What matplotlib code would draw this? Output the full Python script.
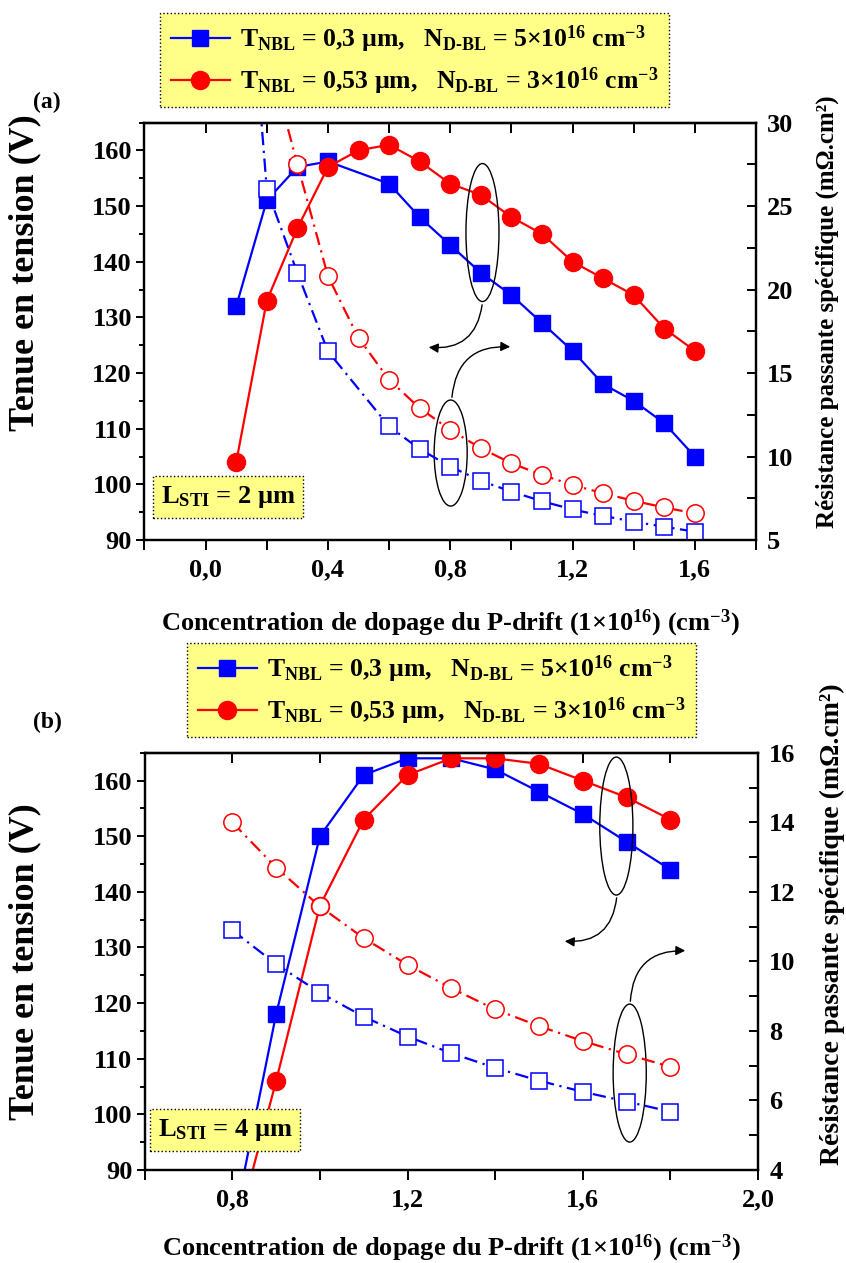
import matplotlib
matplotlib.use('Agg')
import matplotlib.pyplot as plt
from matplotlib.patches import Ellipse, FancyArrowPatch
from matplotlib.ticker import MultipleLocator, FuncFormatter

plt.rcParams['font.family'] = ['Liberation Serif', 'DejaVu Serif']
plt.rcParams['font.weight'] = 'bold'
plt.rcParams['axes.labelweight'] = 'bold'
plt.rcParams['mathtext.fontset'] = 'custom'
plt.rcParams['mathtext.rm'] = 'Liberation Serif:bold'
plt.rcParams['mathtext.bf'] = 'Liberation Serif:bold'
plt.rcParams['mathtext.it'] = 'Liberation Serif:italic:bold'
plt.rcParams['mathtext.default'] = 'rm'

# ---- panel (a), L_STI = 2 um ----
x_bv_blue_a = [0.1, 0.2, 0.3, 0.4, 0.6, 0.7, 0.8, 0.9, 1.0, 1.1, 1.2, 1.3, 1.4, 1.5, 1.6]
bv_blue_a = [132, 151, 157, 158, 154, 148, 143, 138, 134, 129, 124, 118, 115, 111, 105]
x_bv_red_a = [0.1, 0.2, 0.3, 0.4, 0.5, 0.6, 0.7, 0.8, 0.9, 1.0, 1.1, 1.2, 1.3, 1.4, 1.5, 1.6]
bv_red_a = [104, 133, 146, 157, 160, 161, 158, 154, 152, 148, 145, 140, 137, 134, 128, 124]
x_ron_blue_a = [0.1, 0.2, 0.3, 0.4, 0.6, 0.7, 0.8, 0.9, 1.0, 1.1, 1.2, 1.3, 1.4, 1.5, 1.6]
ron_blue_a = [49, 26.0, 21.0, 16.3, 11.8, 10.45, 9.4, 8.55, 7.9, 7.33, 6.83, 6.45, 6.1, 5.8, 5.5]
x_ron_red_a = [0.1, 0.2, 0.3, 0.4, 0.5, 0.6, 0.7, 0.8, 0.9, 1.0, 1.1, 1.2, 1.3, 1.4, 1.5, 1.6]
ron_red_a = [48, 34.4, 27.5, 20.8, 17.1, 14.6, 12.9, 11.6, 10.5, 9.6, 8.9, 8.3, 7.8, 7.35, 6.95, 6.6]

# ---- panel (b), L_STI = 4 um ----
x_b = [0.8, 0.9, 1.0, 1.1, 1.2, 1.3, 1.4, 1.5, 1.6, 1.7, 1.8]
bv_blue_b = [79, 118, 150, 161, 164, 164, 162, 158, 154, 149, 144]
bv_red_b = [76, 106, 137.5, 153, 161, 164, 164, 163, 160, 157, 153]
ron_blue_b = [10.9, 9.92, 9.10, 8.41, 7.84, 7.36, 6.94, 6.57, 6.25, 5.97, 5.68]
ron_red_b = [14.0, 12.7, 11.58, 10.67, 9.9, 9.23, 8.62, 8.14, 7.71, 7.33, 6.97]

lab_blue = r'T$_{\rm NBL}$ = 0,3 µm,   N$_{\text{D-BL}}$ = 5×10$^{16}$ cm$^{-3}$'
lab_red = r'T$_{\rm NBL}$ = 0,53 µm,   N$_{\text{D-BL}}$ = 3×10$^{16}$ cm$^{-3}$'
xlab = r'Concentration de dopage du P-drift (1×10$^{16}$) (cm$^{-3}$)'
ylab = 'Tenue en tension (V)'
y2lab = 'Résistance passante spécifique (mΩ.cm²)'

BLUE = '#0000ff'
RED = '#ff0000'
YELLOW = '#ffff88'
dashdot = (0, (6, 2.5, 1, 2.5))
comma = FuncFormatter(lambda v, p: f'{v:.1f}'.replace('.', ','))

fig = plt.figure(figsize=(8.46, 12.63), dpi=100)
ax_a = fig.add_axes([0.1708, 0.5724, 0.7228, 0.3306])
ax_b = fig.add_axes([0.1710, 0.0736, 0.7250, 0.3304])


def setup(ax, xlim, y2lim, y2maj, y2min, y2size):
    ax.set_xlim(*xlim)
    ax.set_ylim(90, 165)
    ax.xaxis.set_major_locator(MultipleLocator(0.4))
    ax.xaxis.set_minor_locator(MultipleLocator(0.2))
    ax.xaxis.set_major_formatter(comma)
    ax.yaxis.set_major_locator(MultipleLocator(10))
    ax.yaxis.set_minor_locator(MultipleLocator(5))
    ax.tick_params(axis='x', which='both', direction='out', length=7, width=1.4,
                   labelsize=19, pad=6)
    ax.tick_params(axis='y', which='major', direction='out', length=6, width=1.4,
                   labelsize=19, pad=3)
    ax.tick_params(axis='y', which='minor', direction='out', length=3.5, width=1.4)
    for s in ax.spines.values():
        s.set_linewidth(1.6)
    top = ax.secondary_xaxis('top')
    top.xaxis.set_major_locator(MultipleLocator(0.2))
    top.tick_params(direction='in', length=7, width=1.4, labeltop=False)
    top.spines['top'].set_linewidth(1.6)
    ax2 = ax.twinx()
    ax2.set_ylim(*y2lim)
    ax2.yaxis.set_major_locator(MultipleLocator(y2maj))
    ax2.yaxis.set_minor_locator(MultipleLocator(y2min))
    ax2.tick_params(axis='y', which='major', direction='in', length=6.5, width=1.4,
                    labelsize=19, pad=8)
    ax2.tick_params(axis='y', which='minor', direction='in', length=6.5, width=1.4)
    for s in ax2.spines.values():
        s.set_linewidth(1.6)
    ax.set_xlabel(xlab, fontsize=19)
    ax.set_ylabel(ylab, fontsize=26)
    ax2.set_ylabel(y2lab, fontsize=y2size)
    return ax2


ax2_a = setup(ax_a, (-0.2, 1.8), (5, 30), 5, 2.5, 18)
ax2_b = setup(ax_b, (0.6, 2.0), (4, 16), 2, 1, 20)

# panel (a) curves
ax_a.plot(x_bv_blue_a, bv_blue_a, '-s', color=BLUE, lw=1.6, ms=12)
ax_a.plot(x_bv_red_a, bv_red_a, '-o', color=RED, lw=1.6, ms=13)
ax2_a.plot(x_ron_blue_a, ron_blue_a, 's', ls=dashdot, color=BLUE, lw=1.6, ms=11,
           mfc='white', mew=1.1)
ax2_a.plot(x_ron_red_a, ron_red_a, 'o', ls=dashdot, color=RED, lw=1.6, ms=12.5,
           mfc='white', mew=1.1)

# panel (b) curves
ax_b.plot(x_b, bv_blue_b, '-s', color=BLUE, lw=1.6, ms=12)
ax_b.plot(x_b, bv_red_b, '-o', color=RED, lw=1.6, ms=13)
ax2_b.plot(x_b, ron_blue_b, 's', ls=dashdot, color=BLUE, lw=1.6, ms=11,
           mfc='white', mew=1.1)
ax2_b.plot(x_b, ron_red_b, 'o', ls=dashdot, color=RED, lw=1.6, ms=12.5,
           mfc='white', mew=1.1)

ax_a.yaxis.set_label_coords(-0.168, 0.64)
ax_a.xaxis.set_label_coords(0.5, -0.163)
ax2_a.yaxis.set_label_coords(1.097, 0.546)
ax_b.yaxis.set_label_coords(-0.168, 0.5)
ax_b.xaxis.set_label_coords(0.5, -0.150)
ax2_b.yaxis.set_label_coords(1.100, 0.59)

# legends
for xc, yc, ax in [(0.490, 0.9525, ax_a), (0.5219, 0.4537, ax_b)]:
    lines = ax.get_lines()[:2]
    leg = fig.legend(lines, [lab_blue, lab_red], loc='center', bbox_to_anchor=(xc, yc),
                     fontsize=18.5, frameon=True, fancybox=False, framealpha=1,
                     facecolor=YELLOW, edgecolor='black', handlelength=2.3,
                     borderpad=0.4, labelspacing=0.4, handletextpad=0.4)
    leg.get_frame().set_linestyle(':')
    leg.get_frame().set_linewidth(1.0)

# L_STI boxes
for xc, yc, txt in [(0.2695, 0.6065, r'L$_{\rm STI}$ = 2 µm'), (0.266, 0.1053, r'L$_{\rm STI}$ = 4 µm')]:
    fig.text(xc, yc, txt, ha='center', va='center', fontsize=19,
             bbox=dict(boxstyle='square,pad=0.3', fc=YELLOW, ec='black', ls=':', lw=1.0))

fig.text(0.0556, 0.9192, '(a)', ha='center', va='center', fontsize=17)
fig.text(0.0556, 0.4276, '(b)', ha='center', va='center', fontsize=17)

# ellipses and curved arrows (axes fraction)
marks = [
    (ax_a, (0.5527, 0.7365), 0.3305, (0.5527, 0.570), (0.4603, 0.4623)),
    (ax_a, (0.5007, 0.2084), 0.254, (0.5024, 0.3353), (0.6026, 0.4623)),
    (ax_b, (0.7690, 0.8243), 0.3307, (0.770, 0.659), (0.6804, 0.5488)),
    (ax_b, (0.7908, 0.2324), 0.3307, (0.7916, 0.3978), (0.8859, 0.5255)),
]
for ax, c, h, p0, p1 in marks:
    ax.add_patch(Ellipse(c, 0.054, h, transform=ax.transAxes, fill=False,
                         ec='black', lw=1.0, zorder=5))
    ax.add_patch(FancyArrowPatch(p0, p1, transform=ax.transAxes,
                                 connectionstyle='arc3,rad=-0.5', arrowstyle='-|>',
                                 mutation_scale=14, color='black', lw=1.0, zorder=5))

fig.savefig('out.png', dpi=100)
